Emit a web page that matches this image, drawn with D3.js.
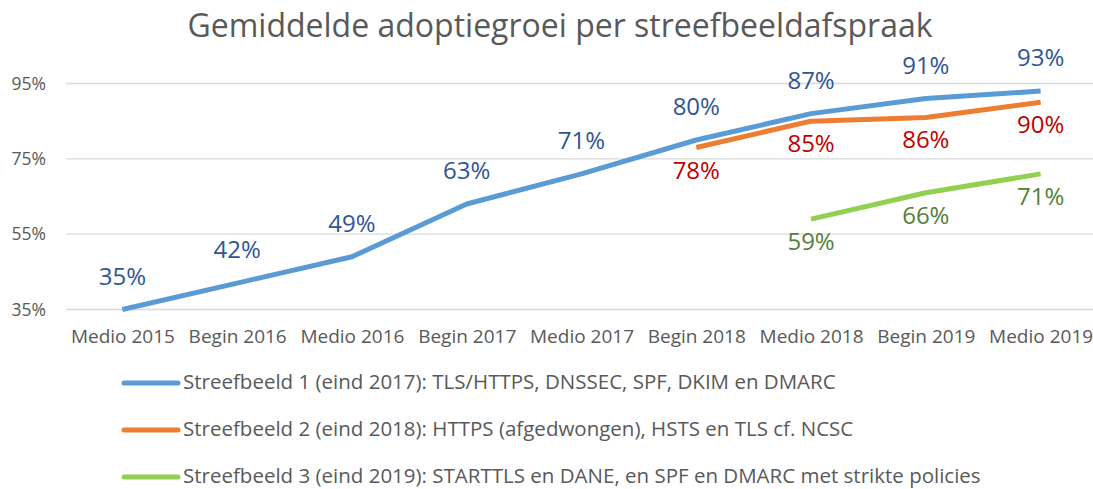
<!DOCTYPE html>
<html>
<head>
<meta charset="utf-8">
<script src="https://cdn.jsdelivr.net/npm/d3@7"></script>
<style>
  body { margin: 0; background: #fff; }
  text { font-family: "Open Sans", "Noto Sans", sans-serif; }
</style>
</head>
<body>
<div class="chart_wrapper"></div>
<script>
const periods = ["Medio 2015", "Begin 2016", "Medio 2016", "Begin 2017", "Medio 2017",
                 "Begin 2018", "Medio 2018", "Begin 2019", "Medio 2019"]
const yTicks = [35, 55, 75, 95]

// null = nog niet gemeten
const streefbeeld1 = [35, 42, 49, 63, 71, 80, 87, 91, 93]
const streefbeeld2 = [null, null, null, null, null, 78, 85, 86, 90]
const streefbeeld3 = [null, null, null, null, null, null, 59, 66, 71]

const legendLabels = [
  "Streefbeeld 1 (eind 2017): TLS/HTTPS, DNSSEC, SPF, DKIM en DMARC",
  "Streefbeeld 2 (eind 2018): HTTPS (afgedwongen), HSTS en TLS cf. NCSC",
  "Streefbeeld 3 (eind 2019): STARTTLS en DANE, en SPF en DMARC met strikte policies"
]

const width = 1093, height = 489

const svg = d3.select(".chart_wrapper")
  .append("svg")
    .attr("width", width)
    .attr("height", height)

const xScale = d3.scalePoint()
  .domain(periods)
  .range([65, 1098])
  .padding(0.5)

const yScale = d3.scaleLinear()
  .domain([35, 95])
  .range([309.5, 83.5])

// gridlines
svg.append("g")
  .selectAll("line")
  .data(yTicks)
  .join("line")
    .attr("x1", 66)
    .attr("x2", 1093)
    .attr("y1", d => yScale(d))
    .attr("y2", d => yScale(d))
    .attr("stroke", "#d9d9d9")
    .attr("stroke-width", 1.3)

const yAxis = d3.axisLeft(yScale)
  .tickValues(yTicks)
  .tickFormat(d => d + "%")
  .tickSize(0)
  .tickPadding(0)

svg.append("g")
  .attr("transform", "translate(46,0)")
  .call(yAxis)
  .call(g => g.select(".domain").remove())
  .call(g => g.selectAll("text")
    .attr("fill", "#595959")
    .style("font-size", "17.5px")
    .style("font-family", "'Open Sans', sans-serif"))

const xAxis = d3.axisBottom(xScale)
  .tickSize(0)
  .tickPadding(0)

svg.append("g")
  .attr("transform", "translate(0,329)")
  .call(xAxis)
  .call(g => g.select(".domain").remove())
  .call(g => g.selectAll("text")
    .attr("fill", "#595959")
    .style("font-size", "19px")
    .style("font-family", "'Open Sans', sans-serif"))

// title
svg.append("text")
  .attr("x", 560)
  .attr("y", 37)
  .attr("text-anchor", "middle")
  .attr("fill", "#595959")
  .style("font-size", "32px")
  .text("Gemiddelde adoptiegroei per streefbeeldafspraak")

const series = [
  {values: streefbeeld1, line: "#5b9bd5", label: "#2f5597", pos: "above"},
  {values: streefbeeld2, line: "#ed7d31", label: "#c00000", pos: "below"},
  {values: streefbeeld3, line: "#92d050", label: "#538135", pos: "below"}
]

const line = d3.line()
  .defined(d => d.v != null)
  .x(d => xScale(d.p))
  .y(d => yScale(d.v))

series.forEach(s => {
  const pts = periods.map((p, i) => ({p: p, v: s.values[i]}))

  svg.append("path")
    .datum(pts)
    .attr("d", line)
    .attr("fill", "none")
    .attr("stroke", s.line)
    .attr("stroke-width", 5)
    .attr("stroke-linejoin", "round")

  svg.append("g")
    .selectAll("text")
    .data(pts.filter(d => d.v != null))
    .join("text")
      .attr("x", d => xScale(d.p))
      .attr("y", d => s.pos == "above" ? yScale(d.v) - 25 : yScale(d.v) + 31)
      .attr("text-anchor", "middle")
      .attr("fill", s.label)
      .style("font-size", "24px")
      .text(d => d.v + "%")
})

// legend
const legend = svg.append("g")
  .selectAll("g")
  .data(series)
  .join("g")
    .attr("transform", (d, i) => "translate(0," + (383 + i * 47) + ")")

legend.append("line")
  .attr("x1", 124)
  .attr("x2", 178)
  .attr("stroke", d => d.line)
  .attr("stroke-width", 5)
  .attr("stroke-linecap", "round")

legend.append("text")
  .attr("x", 183)
  .attr("y", 6)
  .attr("fill", "#595959")
  .style("font-size", "20.5px")
  .text((d, i) => legendLabels[i])
</script>
</body>
</html>
